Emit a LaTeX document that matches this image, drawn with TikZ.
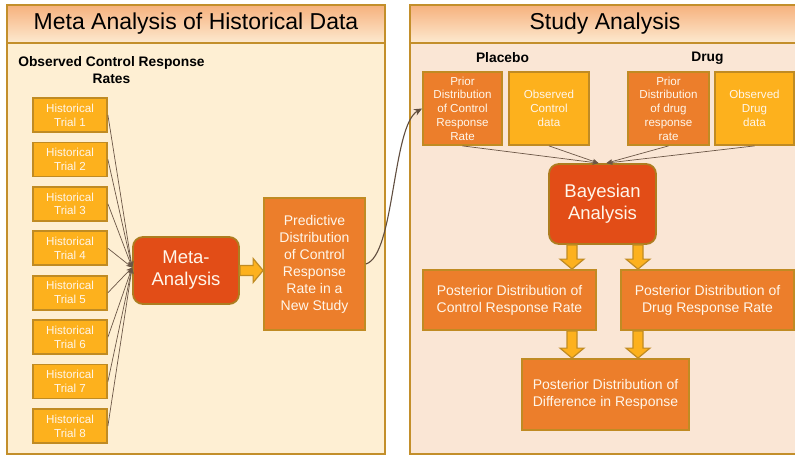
\documentclass[tikz,border=0pt]{standalone}
\usepackage{fontspec}
\setmainfont{Liberation Sans}
\usepackage{xcolor}
\usetikzlibrary{calc,arrows.meta}
\definecolor{edge}{HTML}{C38F2B}
\definecolor{leftbody}{HTML}{FEEFD3}
\definecolor{rightbody}{HTML}{FAE6D5}
\definecolor{headtop}{HTML}{F6B17D}
\definecolor{headbot}{HTML}{FDEAD0}
\definecolor{gold}{HTML}{FDB11D}
\definecolor{orange}{HTML}{EC7E2B}
\definecolor{redbox}{HTML}{E24D17}
\definecolor{boxedge}{HTML}{C08B23}
\definecolor{linkcol}{HTML}{6B5646}
\definecolor{boxtext}{HTML}{FFF6EA}
\tikzset{
  panel/.style={draw=edge, line width=1.8pt},
  header/.style={top color=headtop, bottom color=headbot, draw=edge, line width=1.2pt},
  title/.style={font=\fontsize{23}{27}\selectfont, text=black},
  lab/.style={font=\bfseries\fontsize{13.8}{17}\selectfont, text=black, align=center},
  small/.style={font=\fontsize{11.6}{13.8}\selectfont},
  mid/.style={font=\fontsize{14}{17}\selectfont},
  big/.style={font=\fontsize{18.5}{22}\selectfont},
  box/.style={draw=boxedge, line width=1.8pt, text=boxtext, align=center, inner sep=0pt},
  goldbox/.style={box, fill=gold},
  orangebox/.style={box, fill=orange},
  redround/.style={box, fill=redbox, draw=boxedge!90!black, rounded corners=10pt},
  link/.style={draw=linkcol, line width=0.7pt, -{Stealth[length=6pt,width=5pt]}},
  handover/.style={draw=linkcol!90!black, line width=1.1pt, -{Stealth[length=8pt,width=7pt]}},
  fatarrow/.style={fill=gold, draw=boxedge, line width=1.2pt, line join=miter},
}
% block arrow to the right, from the east side of #1 to the west side of #2
\newcommand{\fatright}[2]{%
  \draw[fatarrow] let \p1=(#1.east), \p2=(#2.west) in
    (\x1,\y1+5pt) -- (\x2-10pt,\y1+5pt) -- (\x2-10pt,\y1+12pt) -- (\x2,\y1)
    -- (\x2-10pt,\y1-12pt) -- (\x2-10pt,\y1-5pt) -- (\x1,\y1-5pt) -- cycle;}
% block arrow downwards at x=#1, from the south side of #2 to the north side of #3
\newcommand{\fatdown}[3]{%
  \draw[fatarrow] let \p1=(#2.south), \p2=(#3.north) in
    (#1pt-5pt,\y1) -- (#1pt-5pt,\y2+10pt) -- (#1pt-12pt,\y2+10pt) -- (#1pt,\y2)
    -- (#1pt+12pt,\y2+10pt) -- (#1pt+5pt,\y2+10pt) -- (#1pt+5pt,\y1) -- cycle;}

\begin{document}
\begin{tikzpicture}[x=1pt, y=-1pt]
  \useasboundingbox (0,0) rectangle (795,455);

  % panels
  \fill[leftbody] (7,5) rectangle (385,454);
  \draw[header] (7,5) rectangle (385,43);
  \draw[panel] (7,5) rectangle (385,454);
  \fill[rightbody] (410,5) rectangle (800,454);
  \draw[header] (410,5) rectangle (800,43);
  \draw[panel] (410,5) rectangle (800,454);
  \node[title] (lefttitle) at (196,24) {Meta Analysis of Historical Data};
  \node[title] (righttitle) at (605,24) {Study Analysis};

  % meta analysis side
  \node[lab] (obslab) at (111.5,70) {Observed Control Response\\Rates};
  \foreach \i in {1,...,8}
    \node[goldbox, small, minimum width=74, minimum height=34]
      (trial\i) at (70,{115+44.43*(\i-1)}) {Historical\\Trial \i};
  \node[redround, big, minimum width=106, minimum height=67]
    (meta) at (186,270.5) {Meta-\\Analysis};
  \node[orangebox, mid, minimum width=101, minimum height=132]
    (pred) at (314.5,264) {Predictive\\Distribution\\of Control\\Response\\Rate in a\\New Study};
  \foreach \i in {1,...,8}
    \draw[link] (trial\i.east) -- ([yshift=3pt]meta.west);
  \fatright{meta}{pred}

  % study analysis side
  \node[lab] (placebo) at (502.5,58) {Placebo};
  \node[lab] (drug) at (707.5,58) {Drug};
  \node[orangebox, small, minimum width=79, minimum height=73]
    (priorctl) at (462.5,108.5) {Prior\\Distribution\\of Control\\Response\\Rate};
  \node[goldbox, small, minimum width=80, minimum height=73]
    (obsctl) at (549,108.5) {Observed\\Control\\data};
  \node[orangebox, small, minimum width=81, minimum height=73]
    (priordrug) at (668.5,108.5) {Prior\\Distribution\\of drug\\response\\rate};
  \node[goldbox, small, minimum width=79, minimum height=73]
    (obsdrug) at (754.5,108.5) {Observed\\Drug\\data};
  \node[redround, big, minimum width=107, minimum height=80]
    (bayes) at (602.5,204) {Bayesian\\Analysis};
  \node[orangebox, mid, minimum width=173, minimum height=60]
    (postctl) at (509.5,300) {Posterior Distribution of\\Control Response Rate};
  \node[orangebox, mid, minimum width=173, minimum height=60]
    (postdrug) at (707.5,300) {Posterior Distribution of\\Drug Response Rate};
  \node[orangebox, mid, minimum width=167, minimum height=71]
    (diff) at (605.5,394.5) {Posterior Distribution of\\Difference in Response};

  \draw[link] (priorctl.south) -- ([xshift=-4pt]bayes.north);
  \draw[link] (obsctl.south) -- ([xshift=-4pt]bayes.north);
  \draw[link] (priordrug.south) -- ([xshift=4pt]bayes.north);
  \draw[link] (obsdrug.south) -- ([xshift=4pt]bayes.north);
  \fatdown{572}{bayes}{postctl}
  \fatdown{638}{bayes}{postdrug}
  \fatdown{572}{postctl}{diff}
  \fatdown{638}{postdrug}{diff}

  % hand-over from the historical data to the study
  \draw[handover] (pred.east) .. controls (395,255) and (392,125) .. (priorctl.west);
\end{tikzpicture}
\end{document}
